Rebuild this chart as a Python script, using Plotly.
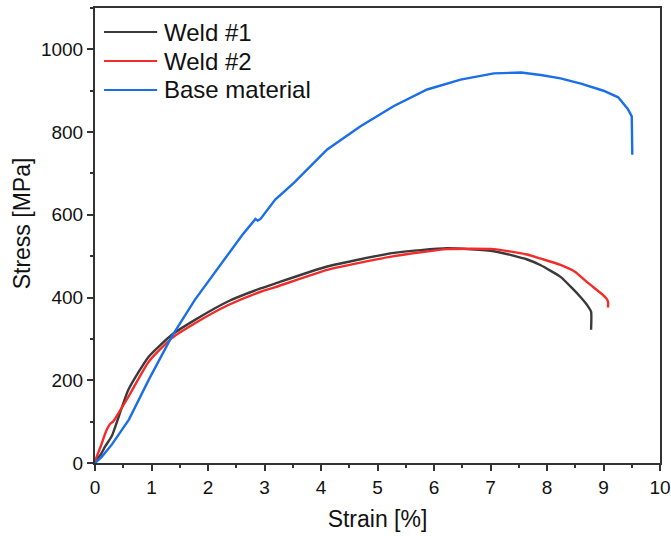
import plotly.graph_objects as go

# Weld #1
weld1_strain = [0.0, 0.1, 0.18, 0.3, 0.59, 0.95, 1.36, 1.77, 2.36, 2.93, 3.19, 4.11, 5.29, 6.23, 7.06, 7.65, 7.89, 8.24, 8.45, 8.6, 8.72, 8.78, 8.78]
weld1_stress = [5, 20, 40, 66, 177, 257, 310, 346, 391, 422, 434, 475, 508, 519, 512, 492, 478, 450, 422, 400, 380, 366, 322]

# Weld #2
weld2_strain = [0.0, 0.1, 0.2, 0.27, 0.32, 0.59, 0.95, 1.36, 1.77, 2.36, 2.93, 3.19, 4.11, 5.29, 6.23, 7.06, 7.65, 7.89, 8.24, 8.5, 8.72, 8.95, 9.05, 9.08, 9.08]
weld2_stress = [5, 40, 78, 95, 100, 160, 245, 302, 338, 382, 414, 425, 467, 500, 517, 517, 504, 494, 479, 462, 436, 411, 398, 390, 376]

# Base material
base_strain = [0.0, 0.12, 0.3, 0.6, 0.95, 1.36, 1.77, 2.07, 2.36, 2.6, 2.84, 2.88, 2.93, 3.19, 3.52, 4.11, 4.7, 5.29, 5.88, 6.47, 7.06, 7.54, 7.89, 8.24, 8.6, 9.0, 9.26, 9.43, 9.5, 9.51]
base_stress = [0, 15, 45, 105, 201, 306, 395, 451, 508, 550, 590, 586, 590, 637, 677, 758, 814, 863, 903, 927, 942, 944, 938, 930, 917, 900, 884, 856, 838, 745]

series_names = ["Weld #1", "Weld #2", "Base material"]
series_colors = ["#3a3a3a", "#f22b2b", "#1a6ee8"]

FONT = "Liberation Sans, Arial"

fig = go.Figure()
data = [(weld1_strain, weld1_stress, True), (weld2_strain, weld2_stress, True), (base_strain, base_stress, False)]
for (xs, ys, smooth), name, color in zip(data, series_names, series_colors):
    line = dict(color=color, width=2.4)
    if smooth:
        line.update(shape="spline", smoothing=0.5)
    fig.add_trace(go.Scatter(x=xs, y=ys, mode="lines", name=name, line=line, showlegend=False))

# Manual legend (paper coordinates)
legend_rows_y = [0.947, 0.8835, 0.8198]
for name, color, ly in zip(series_names, series_colors, legend_rows_y):
    fig.add_shape(type="line", xref="paper", yref="paper", x0=0.016, x1=0.11, y0=ly, y1=ly,
                  line=dict(color=color, width=2))
    fig.add_annotation(xref="paper", yref="paper", x=0.118, y=ly, text=name, showarrow=False,
                       xanchor="left", yanchor="middle", font=dict(family=FONT, size=24, color="#111"))

# Y axis title
fig.add_annotation(xref="paper", yref="paper", x=-0.129, y=0.527, text="Stress [MPa]", showarrow=False,
                   textangle=-90, xanchor="center", yanchor="middle",
                   font=dict(family=FONT, size=23, color="#111"))

axis_common = dict(showgrid=False, zeroline=False, showline=True, linecolor="#333333",
                   linewidth=2, mirror=True, ticks="outside", ticklen=6, tickwidth=1.5,
                   tickcolor="#333333", automargin=False,
                   tickfont=dict(family=FONT, size=19, color="#111"))

fig.update_layout(
    width=671, height=536,
    margin=dict(l=95, r=11, t=8, b=73),
    paper_bgcolor="white", plot_bgcolor="white",
    font=dict(family=FONT, color="#111"),
    showlegend=False,
    xaxis=dict(range=[0, 10], dtick=1, title=dict(text="Strain [%]", font=dict(size=23), standoff=14),
               minor=dict(dtick=0.5, ticks="outside", ticklen=3, tickwidth=1.5, tickcolor="#333333"),
               **axis_common),
    yaxis=dict(range=[0, 1100], tickvals=[0, 200, 400, 600, 800, 1000],
               minor=dict(tickvals=[100, 300, 500, 700, 900, 1100], ticks="outside", ticklen=3, tickwidth=1.5, tickcolor="#333333"),
               **axis_common),
)

fig.write_html("out.html", config={"displayModeBar": False},
               post_script="document.body.style.margin='0';document.body.style.overflow='hidden';")
